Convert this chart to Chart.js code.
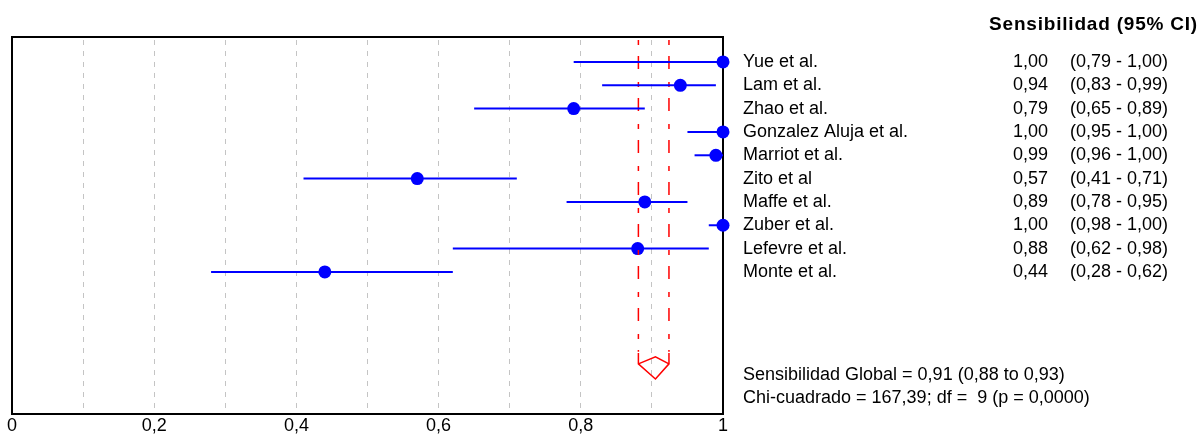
<!DOCTYPE html>
<html>
<head>
<meta charset="utf-8">
<script src="https://cdn.jsdelivr.net/npm/chart.js@4.4.0/dist/chart.umd.min.js"></script>
<style>
  html, body { margin: 0; padding: 0; background: #fff; }
  #wrap { width: 1201px; height: 442px; }
</style>
</head>
<body>
<div id="wrap"><canvas id="forest" width="1201" height="442"></canvas></div>
<script>
// estudios y sensibilidad (IC 95%)
const studies = ['Yue et al.', 'Lam et al.', 'Zhao et al.', 'Gonzalez Aluja et al.', 'Marriot et al.',
  'Zito et al', 'Maffe et al.', 'Zuber et al.', 'Lefevre et al.', 'Monte et al.'];
const sens = [1.00, 0.94, 0.79, 1.00, 0.99, 0.57, 0.89, 1.00, 0.88, 0.44];
const ciLow = [0.79, 0.83, 0.65, 0.95, 0.96, 0.41, 0.78, 0.98, 0.62, 0.28];
const ciHigh = [1.00, 0.99, 0.89, 1.00, 1.00, 0.71, 0.95, 1.00, 0.98, 0.62];

// estimacion global (diamante)
const pooled = [0.905, 0.881, 0.924]; // estimacion, limite inf, limite sup
const xTicks = [0, 0.2, 0.4, 0.6, 0.8, 1];
const titleText = 'Sensibilidad (95% CI)';
const summaryLines = ['Sensibilidad Global = 0,91 (0,88 to 0,93)', 'Chi-cuadrado = 167,39; df =  9 (p = 0,0000)'];

const fmt = v => v.toFixed(2).replace('.', ',');
const FONT = '"Liberation Sans", Arial, sans-serif';

// filas en el eje y
const rowY = i => i + 1;
const Y_MIN = -0.07, Y_MAX = 16.09;
const DIAMOND_TOP = 13.47, DIAMOND_MID = 13.94, DIAMOND_UP = 13.64, DIAMOND_LOW = 14.59;

const datasets = [];

// lineas IC
studies.forEach((s, i) => {
    datasets.push({
        type: 'line',
        data: [{ x: ciLow[i], y: rowY(i) }, { x: ciHigh[i], y: rowY(i) }],
        borderColor: '#0000ff',
        borderWidth: 2,
        pointRadius: 0,
        clip: false,
    });
});

// lineas verticales del IC global
[pooled[1], pooled[2]].forEach(x => {
    datasets.push({
        type: 'line',
        data: [{ x: x, y: 0.06 }, { x: x, y: DIAMOND_TOP - 0.05 }],
        borderColor: '#ff0000',
        borderWidth: 1.5,
        borderDash: [5, 11, 13, 13],
        pointRadius: 0,
    });
});

// diamante
datasets.push({
    type: 'line',
    data: [
        { x: pooled[1], y: DIAMOND_TOP }, { x: pooled[1], y: DIAMOND_MID },
        { x: pooled[0], y: DIAMOND_LOW }, { x: pooled[2], y: DIAMOND_MID },
        { x: pooled[2], y: DIAMOND_TOP }
    ],
    borderColor: '#ff0000',
    borderWidth: 1.5,
    pointRadius: 0,
});
datasets.push({
    type: 'line',
    data: [{ x: pooled[1], y: DIAMOND_MID }, { x: pooled[0], y: DIAMOND_UP }, { x: pooled[2], y: DIAMOND_MID }],
    borderColor: '#ff0000',
    borderWidth: 1.5,
    pointRadius: 0,
});

// puntos
datasets.push({
    type: 'scatter',
    data: sens.map((v, i) => ({ x: v, y: rowY(i) })),
    backgroundColor: '#0000ff',
    borderWidth: 0,
    pointRadius: 6.5,
    pointHoverRadius: 6.5,
    clip: false,
});

const framePlugin = {
    id: 'frame',
    beforeDatasetsDraw(chart) {
        const { ctx, chartArea: a } = chart;
        ctx.save();
        ctx.strokeStyle = '#000';
        ctx.lineWidth = 2;
        ctx.strokeRect(a.left, a.top, a.right - a.left, a.bottom - a.top);
        ctx.restore();
    }
};

const textPlugin = {
    id: 'texts',
    afterDraw(chart) {
        const { ctx } = chart;
        const y = chart.scales.y;
        ctx.save();
        ctx.fillStyle = '#000';
        ctx.textBaseline = 'middle';

        ctx.font = 'bold 19px ' + FONT;
        ctx.letterSpacing = '0.8px';
        ctx.textAlign = 'right';
        ctx.fillText(titleText, 1198, 25);
        ctx.letterSpacing = '0px';

        ctx.font = '18px ' + FONT;
        studies.forEach((s, i) => {
            const py = y.getPixelForValue(rowY(i));
            ctx.textAlign = 'left';
            ctx.fillText(s, 743, py);
            ctx.textAlign = 'right';
            ctx.fillText(fmt(sens[i]), 1048, py);
            ctx.textAlign = 'left';
            ctx.fillText('(' + fmt(ciLow[i]) + ' - ' + fmt(ciHigh[i]) + ')', 1070, py);
        });

        ctx.textAlign = 'left';
        ctx.fillText(summaryLines[0], 743, y.getPixelForValue(14.42));
        ctx.fillText(summaryLines[1], 743, y.getPixelForValue(15.4));
        ctx.restore();
    }
};

new Chart(document.getElementById('forest'), {
    data: { datasets },
    options: {
        responsive: false,
        animation: false,
        events: [],
        layout: { padding: { left: 12, right: 478, top: 37, bottom: 0 } },
        plugins: { legend: { display: false }, tooltip: { enabled: false } },
        scales: {
            x: {
                type: 'linear',
                min: 0,
                max: 1,
                afterFit(scale) { scale.height = 28; },
                afterBuildTicks(scale) {
                    scale.ticks = [];
                    for (let k = 0; k <= 10; k++) scale.ticks.push({ value: k / 10 });
                },
                ticks: {
                    padding: 1,
                    color: '#000',
                    font: { family: FONT, size: 18 },
                    callback: v => {
                        const t = xTicks.find(x => Math.abs(x - v) < 1e-6);
                        if (t === undefined) return '';
                        return (t === 0 || t === 1) ? String(t) : t.toFixed(1).replace('.', ',');
                    }
                },
                grid: {
                    drawTicks: false,
                    color: ctx => (ctx.tick && (ctx.tick.value <= 0.001 || ctx.tick.value >= 0.999)) ? 'rgba(0,0,0,0)' : '#c4c4c4',
                    lineWidth: 1,
                },
                border: { display: false, dash: [5, 6], dashOffset: -3 },
            },
            y: {
                type: 'linear',
                display: false,
                reverse: true,
                min: Y_MIN,
                max: Y_MAX,
            }
        }
    },
    plugins: [framePlugin, textPlugin]
});
</script>
</body>
</html>
